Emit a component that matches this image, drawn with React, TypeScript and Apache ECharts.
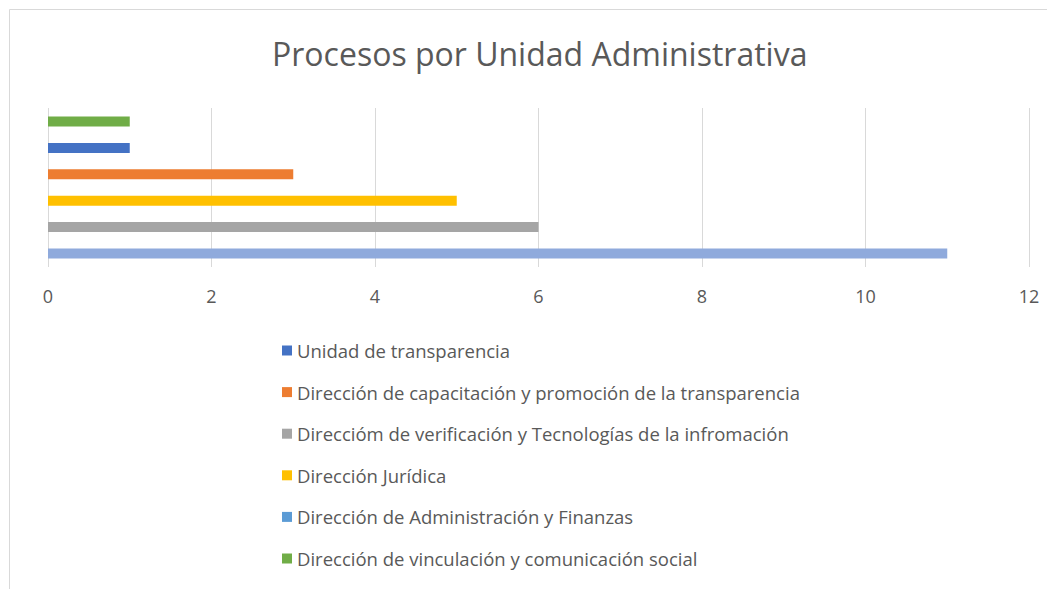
import React, { useEffect, useRef } from "react";
import * as echarts from "echarts";

const categories = ["Procesos"];
const seriesNames = [
  "Dirección de vinculación y comunicación social",
  "Unidad de transparencia",
  "Dirección de capacitación y promoción de la transparencia",
  "Dirección Jurídica",
  "Direccióm de verificación y Tecnologías de la infromación",
  "Dirección de Administración y Finanzas",
];
const seriesValues = [1, 1, 3, 5, 6, 11];
const barColors = ["#70AD47", "#4472C4", "#ED7D31", "#FFC000", "#A5A5A5", "#8FAADC"];
const legendOrder = [
  "Unidad de transparencia",
  "Dirección de capacitación y promoción de la transparencia",
  "Direccióm de verificación y Tecnologías de la infromación",
  "Dirección Jurídica",
  "Dirección de Administración y Finanzas",
  "Dirección de vinculación y comunicación social",
];
const legendColors = ["#4472C4", "#ED7D31", "#A5A5A5", "#FFC000", "#5B9BD5", "#70AD47"];
const xTicks = { min: 0, max: 12, interval: 2 };

export default function App() {
  const ref = useRef<HTMLDivElement>(null);
  useEffect(() => {
    if (!ref.current) return;
    const chart = echarts.init(ref.current, null, { renderer: "svg" });
    const font = "'Open Sans', sans-serif";
    chart.setOption({
      animation: false,
      backgroundColor: "#ffffff",
      title: {
        text: "Procesos por Unidad Administrativa",
        left: 259,
        top: 24,
        textStyle: { color: "#595959", fontSize: 32, fontWeight: "normal", fontFamily: font },
      },
      graphic: [
        { type: "line", shape: { x1: 1.5, y1: 1.5, x2: 1047, y2: 1.5 }, style: { stroke: "#d9d9d9", lineWidth: 1 } },
        { type: "line", shape: { x1: 1.5, y1: 1.5, x2: 1.5, y2: 581 }, style: { stroke: "#d9d9d9", lineWidth: 1 } },
      ],
      grid: { left: 40, right: 26, top: 100, bottom: 322, containLabel: false },
      xAxis: {
        type: "value",
        min: xTicks.min,
        max: xTicks.max,
        interval: xTicks.interval,
        axisLine: { show: false },
        axisTick: { show: false },
        axisLabel: { color: "#595959", fontSize: 18, fontFamily: font, margin: 20 },
        splitLine: { lineStyle: { color: "#d9d9d9", width: 1 } },
      },
      yAxis: {
        type: "category",
        data: categories,
        axisLine: { show: false },
        axisTick: { show: false },
        axisLabel: { show: false },
      },
      legend: {
        orient: "vertical",
        left: 269,
        top: 328,
        itemWidth: 10,
        itemHeight: 10,
        itemGap: 22.6,
        icon: "rect",
        textStyle: { color: "#595959", fontSize: 18.5, fontFamily: font },
        data: legendOrder.map((n, i) => ({ name: n, itemStyle: { color: legendColors[i] } })),
      },
      series: seriesNames.map((name, i) => ({
        name,
        type: "bar",
        data: [seriesValues[i]],
        barWidth: 10,
        barGap: "164%",
        itemStyle: { color: barColors[i] },
      })),
    });
    return () => chart.dispose();
  }, []);
  return <div ref={ref} style={{ width: 1047, height: 581 }} />;
}
